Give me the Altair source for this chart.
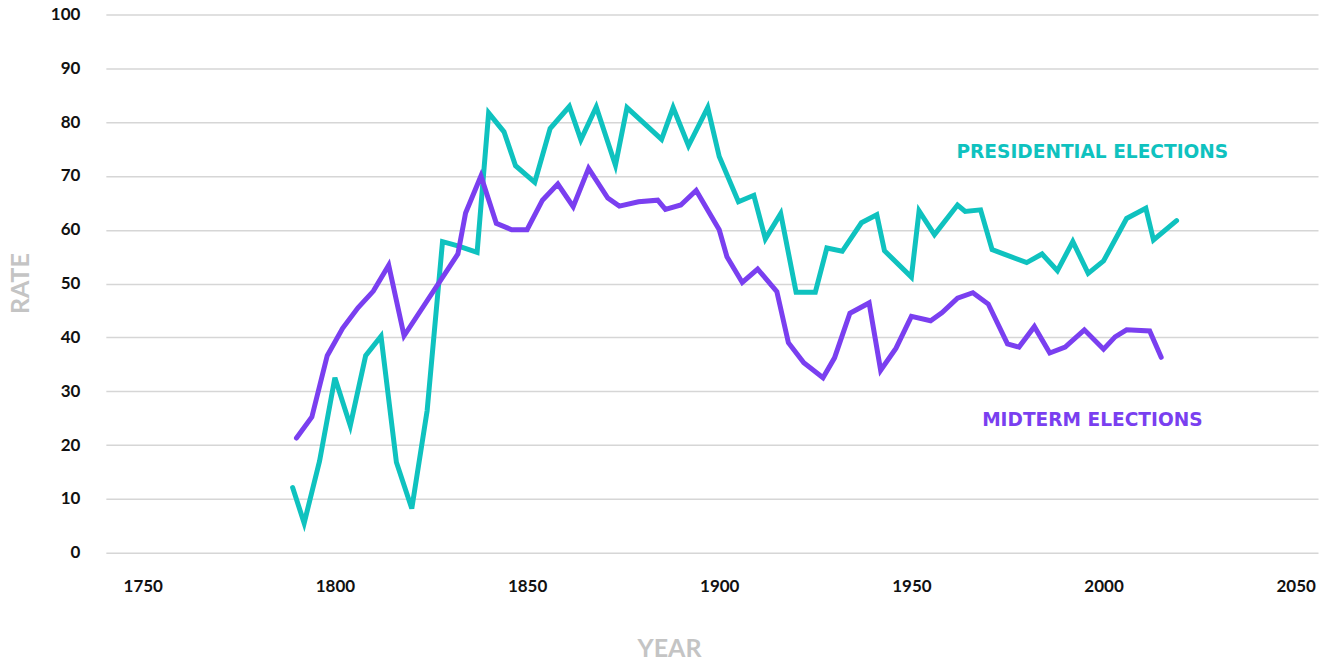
import altair as alt
import pandas as pd

pres_years = [1789, 1792, 1796, 1800, 1804, 1808, 1812, 1816, 1820, 1824, 1828, 1832, 1837,
              1840, 1844, 1847, 1852, 1856, 1861, 1864, 1868, 1873, 1876, 1885, 1888, 1892,
              1897, 1900, 1905, 1909, 1912, 1916, 1920, 1925, 1928, 1932, 1937, 1941, 1943,
              1950, 1952, 1956, 1962, 1964, 1968, 1971, 1980, 1984, 1988, 1992, 1996, 2000,
              2006, 2011, 2013, 2019]
pres_rates = [12.1, 5.5, 17.0, 32.5, 23.6, 36.6, 40.2, 16.8, 8.2, 26.4, 57.8, 57.0, 55.8,
              81.7, 78.2, 71.9, 68.8, 78.8, 82.9, 76.7, 82.8, 72.0, 82.7, 76.8, 82.7, 75.6,
              82.7, 73.6, 65.2, 66.4, 58.3, 63.0, 48.4, 48.4, 56.6, 56.0, 61.3, 62.8, 56.1,
              51.2, 63.5, 59.1, 64.6, 63.4, 63.7, 56.3, 53.9, 55.5, 52.4, 57.8, 51.9, 54.2,
              62.1, 64.0, 58.1, 61.7]

mid_years = [1790, 1794, 1798, 1802, 1806, 1810, 1814, 1818, 1832, 1834, 1838, 1842, 1846,
             1850, 1854, 1858, 1862, 1866, 1871, 1874, 1879, 1884, 1886, 1890, 1894, 1900,
             1902, 1906, 1910, 1915, 1918, 1922, 1927, 1930, 1934, 1939, 1942, 1946, 1950,
             1955, 1958, 1962, 1966, 1970, 1975, 1978, 1982, 1986, 1990, 1995, 2000, 2003,
             2006, 2012, 2015]
mid_rates = [21.3, 25.2, 36.6, 41.7, 45.5, 48.6, 53.4, 40.3, 55.5, 63.1, 70.0, 61.2, 60.0,
             60.0, 65.5, 68.5, 64.3, 71.4, 65.9, 64.4, 65.2, 65.5, 63.8, 64.6, 67.3, 60.0,
             55.0, 50.2, 52.7, 48.5, 39.0, 35.3, 32.5, 36.2, 44.5, 46.4, 33.9, 38.0, 43.9,
             43.1, 44.6, 47.3, 48.3, 46.2, 38.8, 38.2, 42.0, 37.1, 38.2, 41.4, 37.8, 40.1,
             41.4, 41.2, 36.3]

series_names = ["Presidential", "Midterm"]
series_colors = ["#0fc2bf", "#7a3ff0"]
x_ticks = [1750, 1800, 1850, 1900, 1950, 2000, 2050]
y_ticks = [0, 10, 20, 30, 40, 50, 60, 70, 80, 90, 100]

df = pd.concat([
    pd.DataFrame({"year": pres_years, "rate": pres_rates, "series": series_names[0]}),
    pd.DataFrame({"year": mid_years, "rate": mid_rates, "series": series_names[1]}),
])

FONT = "Lato"
LEGEND_FONT = "DejaVu Sans"

x_enc = alt.X("year:Q",
              scale=alt.Scale(domain=[1740.4, 2055.8], nice=False, zero=False),
              axis=alt.Axis(values=x_ticks, format="d", title="YEAR", grid=False,
                            domain=False, ticks=False, labelPadding=34,
                            labelBaseline="middle", labelFlush=False,
                            titleX=564, titleY=96, titleBaseline="middle"))
y_enc = alt.Y("rate:Q",
              scale=alt.Scale(domain=[0, 100], nice=False),
              axis=alt.Axis(values=y_ticks, title="RATE", grid=True, domain=False,
                            ticks=False, labelPadding=26, labelBaseline="middle",
                            titleX=-85, titleY=269, titleBaseline="middle",
                            titleAngle=-90))

lines = alt.Chart(df).mark_line(strokeWidth=5, strokeCap="round").encode(
    x=x_enc,
    y=y_enc,
    color=alt.Color("series:N", scale=alt.Scale(domain=series_names, range=series_colors),
                    legend=None),
    detail="series:N",
)

pres_label = alt.Chart(pd.DataFrame({"t": ["PRESIDENTIAL ELECTIONS"]})).mark_text(
    font=LEGEND_FONT, fontSize=18.6, fontWeight="bold", color=series_colors[0],
    align="center", baseline="middle"
).encode(text="t:N", x=alt.value(988), y=alt.value(138))

mid_label = alt.Chart(pd.DataFrame({"t": ["MIDTERM ELECTIONS"]})).mark_text(
    font=LEGEND_FONT, fontSize=18.6, fontWeight="bold", color=series_colors[1],
    align="center", baseline="middle"
).encode(text="t:N", x=alt.value(988), y=alt.value(406))

chart = alt.layer(lines, pres_label, mid_label).properties(
    width=1214, height=539,
    autosize="none",
    padding={"left": 98, "top": 6, "right": 5, "bottom": 105},
).configure_view(stroke=None).configure_axis(
    labelFont=FONT, labelFontSize=17, labelFontWeight="bold", labelColor="#111111",
    titleFont=FONT, titleFontSize=25, titleFontWeight="bold", titleColor="#c4c4c4",
    gridColor="#d6d6d6", gridWidth=1.5,
)

chart.save("out.html", embed_options={"renderer": "svg", "actions": False})
